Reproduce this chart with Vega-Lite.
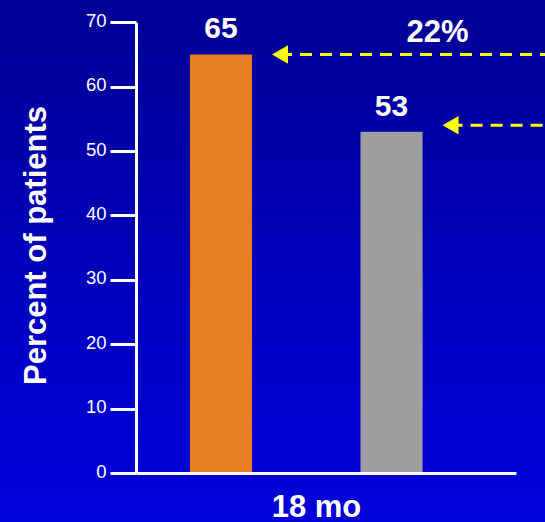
{
  "$schema": "https://vega.github.io/schema/vega-lite/v6.json",
  "width": 545,
  "height": 522,
  "padding": 0,
  "autosize": {"type": "none"},
  "background": "#0000C0",
  "view": {
    "stroke": null,
    "fill": {
      "gradient": "linear",
      "x1": 0, "y1": 0, "x2": 0, "y2": 1,
      "stops": [
        {"offset": 0, "color": "#000094"},
        {"offset": 0.85, "color": "#0000D4"},
        {"offset": 1, "color": "#0000D8"}
      ]
    }
  },
  "config": {"font": "Liberation Sans"},
  "datasets": {
    "bars": [
      {"arm": "Group 1", "pct": 65},
      {"arm": "Group 2", "pct": 53}
    ],
    "arrows": [
      {"arm": "Group 1", "level": 65},
      {"arm": "Group 2", "level": 54}
    ],
    "notes": [
      {"arm": "Group 2", "level": 65, "text": "22%"}
    ]
  },
  "layer": [
    {
      "data": {"name": "bars"},
      "mark": {"type": "bar"},
      "encoding": {
        "x": {
          "field": "arm",
          "type": "nominal",
          "scale": {
            "domain": ["Group 1", "Group 2"],
            "range": [136, 516],
            "paddingInner": 0.636,
            "paddingOuter": 0.432,
            "align": 0.366
          },
          "axis": {
            "orient": "bottom",
            "offset": -49,
            "domainColor": "white",
            "domainWidth": 3,
            "ticks": false,
            "labels": false,
            "title": "18 mo",
            "titleColor": "white",
            "titleFontSize": 31,
            "titleFontWeight": "bold",
            "titleX": 316,
            "titleY": 43,
            "titleBaseline": "alphabetic",
            "titleAlign": "center",
            "zindex": 1
          }
        },
        "y": {
          "field": "pct",
          "type": "quantitative",
          "scale": {"domain": [0, 70], "range": [473, 22.3], "nice": false},
          "axis": {
            "orient": "left",
            "offset": -136,
            "values": [0, 10, 20, 30, 40, 50, 60, 70],
            "grid": false,
            "domainColor": "white",
            "domainWidth": 3,
            "tickColor": "white",
            "tickWidth": 3,
            "tickSize": 26,
            "labelColor": "white",
            "labelFontSize": 18.5,
            "labelPadding": 4,
            "labelOffset": -2,
            "title": "Percent of patients",
            "titleColor": "white",
            "titleFontSize": 31,
            "titleFontWeight": "bold",
            "titleAngle": -90,
            "titleX": -91,
            "titleY": 245,
            "titleBaseline": "alphabetic",
            "titleAlign": "center",
            "zindex": 1
          }
        },
        "color": {
          "field": "arm",
          "type": "nominal",
          "scale": {"domain": ["Group 1", "Group 2"], "range": ["#E87D22", "#9E9E9E"]},
          "legend": null
        }
      }
    },
    {
      "data": {"name": "bars"},
      "mark": {
        "type": "text",
        "color": "white",
        "fontSize": 30,
        "fontWeight": "bold",
        "baseline": "alphabetic",
        "align": "center",
        "dy": -16
      },
      "encoding": {
        "x": {"field": "arm", "type": "nominal"},
        "y": {"field": "pct", "type": "quantitative"},
        "text": {"field": "pct", "type": "quantitative"}
      }
    },
    {
      "data": {"name": "arrows"},
      "mark": {
        "type": "rule",
        "color": "#FFFF00",
        "strokeWidth": 3,
        "strokeDash": [12, 8],
        "xOffset": 28
      },
      "encoding": {
        "x": {"field": "arm", "type": "nominal", "bandPosition": 1},
        "x2": {"value": "width"},
        "y": {"field": "level", "type": "quantitative"}
      }
    },
    {
      "data": {"name": "arrows"},
      "mark": {
        "type": "point",
        "shape": "triangle-left",
        "filled": true,
        "color": "#FFFF00",
        "opacity": 1,
        "size": 340,
        "xOffset": 28
      },
      "encoding": {
        "x": {"field": "arm", "type": "nominal", "bandPosition": 1},
        "y": {"field": "level", "type": "quantitative"}
      }
    },
    {
      "data": {"name": "notes"},
      "mark": {
        "type": "text",
        "color": "white",
        "fontSize": 31,
        "fontWeight": "bold",
        "baseline": "alphabetic",
        "align": "center",
        "xOffset": 46,
        "dy": -12
      },
      "encoding": {
        "x": {"field": "arm", "type": "nominal"},
        "y": {"field": "level", "type": "quantitative"},
        "text": {"field": "text", "type": "nominal"}
      }
    }
  ]
}
